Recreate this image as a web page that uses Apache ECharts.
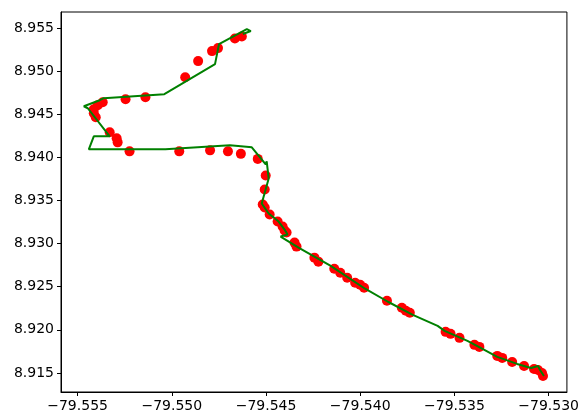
<!DOCTYPE html>
<html>
<head>
<meta charset="utf-8">
<script src="https://cdn.jsdelivr.net/npm/echarts@6/dist/echarts.min.js"></script>
<style>
  html, body { margin: 0; padding: 0; background: #fff; }
  #chart { width: 582px; height: 416px; }
</style>
</head>
<body>
<div id="chart"></div>
<script>
// measured points (lon, lat)
const pointLon = [
  -79.546282, -79.546651, -79.547547, -79.547864, -79.548602, -79.549288,
  -79.551398, -79.552453, -79.553666, -79.553929, -79.554140, -79.554140,
  -79.554035, -79.553296, -79.552927, -79.552874, -79.552242, -79.549604,
  -79.547969, -79.547020, -79.546334, -79.545438, -79.545016, -79.545069,
  -79.545174, -79.545069, -79.544805, -79.544383, -79.544119, -79.544014,
  -79.543908, -79.543486, -79.543381, -79.542431, -79.542220, -79.541377,
  -79.541060, -79.540691, -79.540269, -79.540005, -79.539794, -79.538581,
  -79.537790, -79.537579, -79.537368, -79.535469, -79.535206, -79.534731,
  -79.533940, -79.533676, -79.532727, -79.532463, -79.531936, -79.531303,
  -79.530775, -79.530564, -79.530353, -79.530300
];
const pointLat = [
  8.954012, 8.953779, 8.952674, 8.952326, 8.951163, 8.949302,
  8.946977, 8.946744, 8.946395, 8.946047, 8.945581, 8.945116,
  8.944651, 8.942907, 8.942209, 8.941744, 8.940698, 8.940698,
  8.940814, 8.940698, 8.940407, 8.939826, 8.937907, 8.936279,
  8.934535, 8.934186, 8.933372, 8.932558, 8.931977, 8.931512,
  8.931279, 8.930116, 8.929651, 8.928372, 8.927907, 8.927093,
  8.926628, 8.926047, 8.925465, 8.925233, 8.924884, 8.923372,
  8.922558, 8.922209, 8.921977, 8.919767, 8.919535, 8.919070,
  8.918256, 8.918023, 8.916977, 8.916744, 8.916279, 8.915814,
  8.915465, 8.915349, 8.915000, 8.914651
];

// path (lon, lat)
const pathLon = [
  -79.546229, -79.545807, -79.546018, -79.547495, -79.547706, -79.550396,
  -79.553613, -79.553824, -79.554668, -79.554457, -79.553296, -79.554140,
  -79.554404, -79.550343, -79.546915, -79.545754, -79.545016, -79.544963,
  -79.544858, -79.545227, -79.544858, -79.544330, -79.544014, -79.543856,
  -79.544225, -79.543275, -79.541587, -79.539741, -79.538528, -79.537210,
  -79.535891, -79.535522, -79.534309, -79.533412, -79.532727, -79.531672,
  -79.530933, -79.530564, -79.530459, -79.530248
];
const pathLat = [
  8.954302, 8.954651, 8.954884, 8.953140, 8.950814, 8.947326,
  8.946860, 8.946628, 8.945930, 8.945698, 8.942442, 8.942442,
  8.940930, 8.940930, 8.941395, 8.941163, 8.939186, 8.939535,
  8.937558, 8.934651, 8.933488, 8.932558, 8.931628, 8.931047,
  8.930814, 8.929535, 8.927442, 8.924767, 8.923256, 8.921744,
  8.920465, 8.919884, 8.918721, 8.917674, 8.916860, 8.916047,
  8.915581, 8.915814, 8.915349, 8.914651
];

const xRange = [-79.55588, -79.52903];
const yRange = [8.91279, 8.95686];

const minus = v => v.toFixed(3).replace('-', '\u2212');

const chart = echarts.init(document.getElementById('chart'));
const labelStyle = {
  color: '#000',
  fontFamily: 'DejaVu Sans',
  fontSize: 14,
  margin: 7,
  showMinLabel: false,
  showMaxLabel: false
};
chart.setOption({
  animation: false,
  grid: {
    left: 61, top: 12, right: 12, bottom: 24,
    show: true, borderColor: '#000', borderWidth: 1, backgroundColor: '#fff'
  },
  xAxis: {
    type: 'value',
    min: xRange[0], max: xRange[1],
    splitNumber: 5,
    axisLine: { show: true, lineStyle: { color: '#000', width: 1 } },
    axisTick: { show: true, inside: false, length: 4, lineStyle: { color: '#000' } },
    axisLabel: { ...labelStyle, formatter: minus },
    splitLine: { show: false }
  },
  yAxis: {
    type: 'value',
    min: yRange[0], max: yRange[1],
    splitNumber: 9,
    axisLine: { show: true, lineStyle: { color: '#000', width: 1 } },
    axisTick: { show: true, inside: false, length: 4, lineStyle: { color: '#000' } },
    axisLabel: { ...labelStyle, formatter: v => v.toFixed(3) },
    splitLine: { show: false }
  },
  series: [
    {
      type: 'scatter',
      symbolSize: 10,
      itemStyle: { color: '#ff0000', opacity: 1 },
      data: pointLon.map((x, i) => [x, pointLat[i]]),
      z: 2
    },
    {
      type: 'line',
      showSymbol: false,
      symbol: 'none',
      lineStyle: { color: '#008000', width: 2 },
      data: pathLon.map((x, i) => [x, pathLat[i]]),
      z: 3
    }
  ]
});
</script>
</body>
</html>
